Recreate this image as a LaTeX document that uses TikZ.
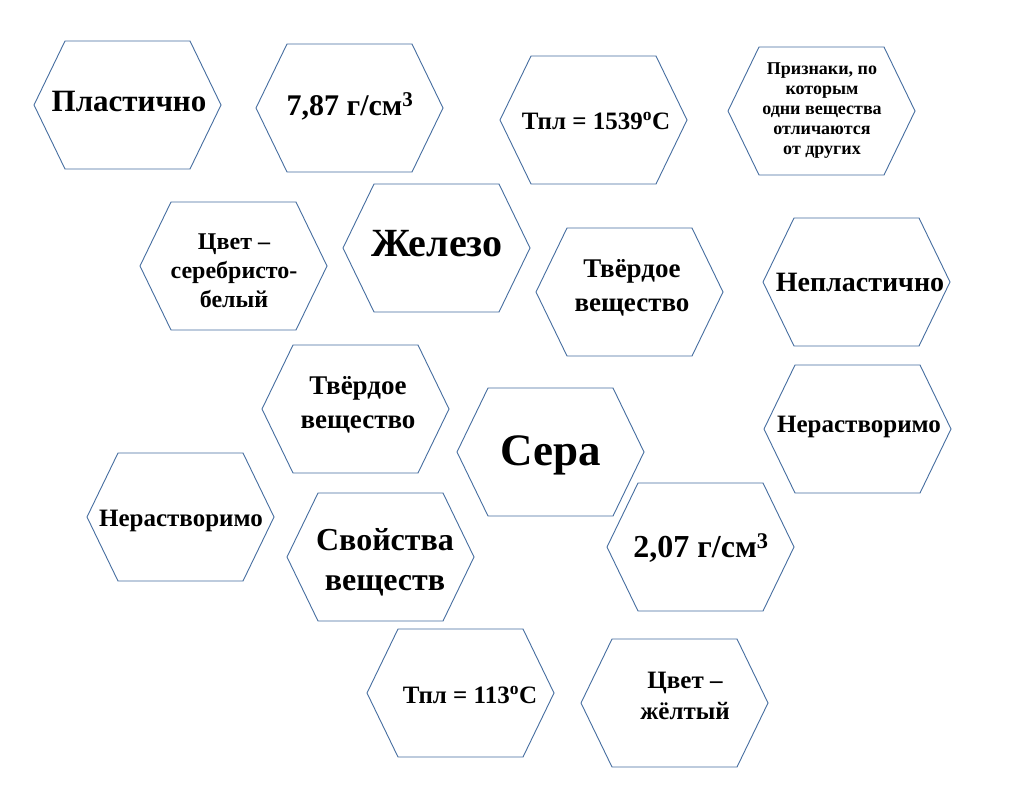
\documentclass[tikz,border=0pt]{standalone}
\usepackage{fontspec}
\setmainfont{Liberation Serif}
\definecolor{hexc}{RGB}{70,110,160}
\newcommand\hexa[1]{\draw[hexline] (#1) ++(-93,0) -- ++(31,64) -- ++(125,0) -- ++(31,-64) -- ++(-31,-64) -- ++(-125,0) -- cycle;}
\newcommand\sz[2]{\fontsize{#1}{#2}\selectfont\bfseries}
\begin{document}
\begin{tikzpicture}[x=1pt,y=-1pt,
  hexline/.style={draw=hexc,line width=0.9pt},
  lab/.style={align=center,inner sep=0pt}]
\useasboundingbox (0,0) rectangle (1015,795);
\fill[white] (0,0) rectangle (1015,795);
\node[lab,font=\sz{31}{35}] (a) at (129,102) {Пластично};
\node[lab,font=\sz{30}{34}] (b) at (350,106) {7,87 г/см\textsuperscript{3}};
\node[lab,font=\sz{25}{29}] (c) at (596,121) {Тпл = 1539\textsuperscript{o}С};
\node[lab,font=\sz{18}{20}] (d) at (822,111) {Признаки, по\\которым\\одни вещества\\отличаются\\от других};
\node[lab,font=\sz{24}{29}] (e) at (234,271) {Цвет –\\серебристо-\\белый};
\node[lab,font=\sz{40}{44}] (f) at (437,244) {Железо};
\node[lab,font=\sz{27}{34}] (g) at (632,288) {Твёрдое\\вещество};
\node[lab,font=\sz{28}{32}] (h) at (860,282) {Непластично};
\node[lab,font=\sz{27}{34}] (i) at (358,405) {Твёрдое\\вещество};
\node[lab,font=\sz{45}{49}] (j) at (551,455) {Сера};
\node[lab,font=\sz{25}{29}] (k) at (859,427) {Нерастворимо};
\node[lab,font=\sz{25}{29}] (l) at (181,521) {Нерастворимо};
\node[lab,font=\sz{32}{40}] (m) at (385,562) {Свойства\\веществ};
\node[lab,font=\sz{32}{36}] (n) at (701,548) {2,07 г/см\textsuperscript{3}};
\node[lab,font=\sz{25}{29}] (o) at (470,695) {Тпл = 113\textsuperscript{o}С};
\node[lab,font=\sz{25}{31}] (p) at (685,696) {Цвет –\\жёлтый};
\hexa{127,105}\hexa{349,108}\hexa{593,120}\hexa{821,111}
\hexa{233,266}\hexa{436,248}\hexa{629,292}\hexa{856,282}
\hexa{355,409}\hexa{550,452}\hexa{857,429}\hexa{180,517}
\hexa{380,557}\hexa{700,547}\hexa{460,693}\hexa{674,703}
\end{tikzpicture}
\end{document}
